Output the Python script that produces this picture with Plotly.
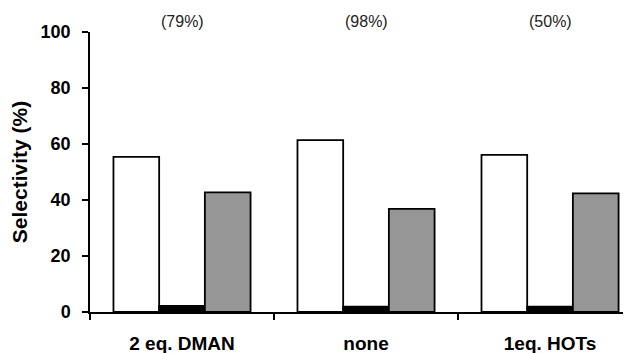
import plotly.graph_objects as go

categories = ['2 eq. DMAN', 'none', '1eq. HOTs']
white_vals = [55.4, 61.4, 56.1]
black_vals = [2.2, 1.9, 1.9]
gray_vals = [42.7, 36.8, 42.4]
conversions = ['(79%)', '(98%)', '(50%)']

font = 'Arial, Liberation Sans, sans-serif'

fig = go.Figure()
for vals, col in [(white_vals, 'white'), (black_vals, 'black'), (gray_vals, '#969696')]:
    fig.add_trace(go.Bar(x=categories, y=vals, marker=dict(color=col, line=dict(color='black', width=1.8)),
                         showlegend=False))

for cat, txt in zip(categories, conversions):
    fig.add_annotation(x=cat, y=1.036, xref='x', yref='paper', text=txt, showarrow=False,
                       font=dict(family=font, size=16, color='#222222'), yanchor='middle')

# page body has an 8px margin, so the figure is shifted; compensate here
fig.update_layout(
    width=623, height=345,
    margin=dict(l=82, r=0, t=24, b=41),
    plot_bgcolor='white', paper_bgcolor='white',
    barmode='group', bargap=0.255, bargroupgap=0,
    font=dict(family=font, color='black'),
)
fig.update_xaxes(range=[-0.5, 2.44], showline=True, linecolor='black', linewidth=1.5, automargin=False,
                 ticks='outside', tickson='boundaries', ticklen=6, tickcolor='black', tickwidth=1.5,
                 ticklabelstandoff=13,
                 tickfont=dict(size=19, family=font, weight='bold'), showgrid=False)
fig.update_yaxes(range=[0, 100], dtick=20, showline=True, linecolor='black', linewidth=1.5, automargin=False,
                 ticks='outside', ticklen=6, tickcolor='black', tickwidth=1.5, showgrid=False, zeroline=False,
                 ticklabelstandoff=8,
                 tickfont=dict(size=18, family=font, weight='bold'),
                 title=dict(text='Selectivity (%)', font=dict(size=21, family=font, weight='bold'), standoff=8))

fig.write_html('out.html')
